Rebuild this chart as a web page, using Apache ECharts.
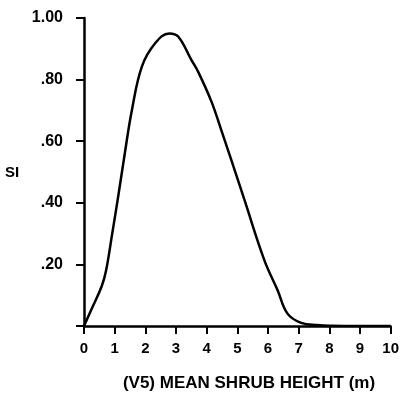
<!DOCTYPE html>
<html>
<head>
<meta charset="utf-8">
<script src="https://cdn.jsdelivr.net/npm/echarts@6/dist/echarts.min.js"></script>
<style>
  html, body { margin: 0; padding: 0; background: #fff; }
  #chart { width: 402px; height: 397px; }
</style>
</head>
<body>
<div id="chart"></div>
<script>
// Suitability index (SI) curve against mean shrub height
const shrubHeight = [0, 0.27, 0.58, 0.72, 0.92, 1.13, 1.33, 1.56, 1.89, 2.32, 2.78, 3.07, 3.5, 3.72, 4.15, 4.48, 4.8, 5.23, 5.88, 6.31, 6.63, 7.06, 7.6, 8.5, 10];
const siValues    = [0, 0.06, 0.13, 0.18, 0.30, 0.43, 0.56, 0.70, 0.843, 0.918, 0.95, 0.94, 0.864, 0.826, 0.73, 0.635, 0.54, 0.41, 0.214, 0.117, 0.041, 0.011, 0.003, 0, 0];
const yTickLabels = { '0.2': '.20', '0.4': '.40', '0.6': '.60', '0.8': '.80', '1': '1.00' };
const xTitle = '(V5) MEAN SHRUB HEIGHT (m)';
const yTitle = 'SI';

const font = '"Liberation Sans", Arial, sans-serif';
const chart = echarts.init(document.getElementById('chart'), null, { renderer: 'canvas' });

chart.setOption({
  animation: false,
  backgroundColor: '#fff',
  grid: { left: 84, right: 8, top: 18, bottom: 71 },
  xAxis: {
    type: 'value', min: 0, max: 10, interval: 1,
    axisLine: { show: true, onZero: false, lineStyle: { color: '#000', width: 2.5 } },
    axisTick: { show: true, length: 8, lineStyle: { color: '#000', width: 2 } },
    axisLabel: { margin: 15, color: '#000', fontFamily: font, fontWeight: 'bold', fontSize: 15 },
    splitLine: { show: false }
  },
  yAxis: {
    type: 'value', min: 0, max: 1, interval: 0.2,
    axisLine: { show: true, lineStyle: { color: '#000', width: 2.5 } },
    axisTick: { show: true, length: 8, lineStyle: { color: '#000', width: 2 } },
    axisLabel: {
      margin: 21, color: '#000', fontFamily: font, fontWeight: 'bold', fontSize: 16,
      formatter: v => yTickLabels[String(+v.toFixed(1))] || ''
    },
    splitLine: { show: false }
  },
  graphic: [{
    type: 'text', left: 5, top: 165,
    style: { text: yTitle, fill: '#000', font: 'bold 15px ' + font }
  }, {
    type: 'text', x: 249, y: 383,
    style: { text: xTitle, fill: '#000', font: 'bold 17px ' + font, align: 'center', verticalAlign: 'middle' }
  }],
  series: [{
    type: 'line',
    data: shrubHeight.map((x, i) => [x, siValues[i]]),
    smooth: 0.4,
    showSymbol: false,
    lineStyle: { color: '#000', width: 2.5 }
  }]
});
</script>
</body>
</html>
